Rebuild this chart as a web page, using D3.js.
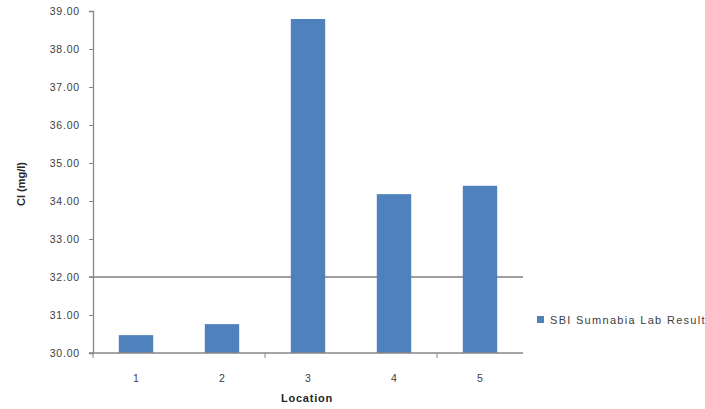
<!DOCTYPE html>
<html>
<head>
<meta charset="utf-8">
<script src="https://cdn.jsdelivr.net/npm/d3@7"></script>
<style>
  html, body { margin: 0; padding: 0; background: #fff; }
  svg { display: block; }
  text { font-family: "Liberation Sans", Arial, sans-serif; }
</style>
</head>
<body>
<svg id="chart" width="705" height="409"></svg>
<script>
// Chloride readings per sampling location
const locations = ["1", "2", "3", "4", "5"];
const chlorideValues = [30.47, 30.76, 38.79, 34.18, 34.40];
const yTicks = [30, 31, 32, 33, 34, 35, 36, 37, 38, 39];
const limitValue = 32;
const seriesName = "SBI Sumnabia Lab Result";

const svg = d3.select("#chart");
const plot = { left: 93, right: 523, top: 11, bottom: 353 };
const axisColor = "#868686";
const barColor = "#4f81bd";

const x = d3.scaleBand()
  .domain(locations)
  .range([plot.left, plot.right])
  .paddingInner(0.6)
  .paddingOuter(0.3);

const y = d3.scaleLinear()
  .domain([30, 39])
  .range([plot.bottom, plot.top]);

// Limit line at 32 mg/l, drawn beneath the bars
svg.append("line")
  .attr("x1", plot.left - 4).attr("x2", plot.right)
  .attr("y1", y(limitValue)).attr("y2", y(limitValue))
  .attr("stroke", "#808080").attr("stroke-width", 1.3);

// Bars
svg.append("g").selectAll("rect")
  .data(chlorideValues)
  .join("rect")
  .attr("x", (d, i) => x(locations[i]))
  .attr("width", x.bandwidth())
  .attr("y", d => y(d))
  .attr("height", d => y(30) - y(d))
  .attr("fill", barColor);

// Y axis
const yAxis = d3.axisLeft(y)
  .tickValues(yTicks)
  .tickFormat(d3.format(".2f"))
  .tickSize(4)
  .tickPadding(9);
const gy = svg.append("g")
  .attr("transform", `translate(${plot.left},0)`)
  .call(yAxis);
gy.select(".domain").attr("stroke", axisColor).attr("stroke-width", 1.3);
gy.selectAll(".tick line").attr("stroke", axisColor);
gy.selectAll(".tick text")
  .attr("fill", "#404040")
  .style("font-size", "10.5px")
  .style("letter-spacing", "0.8px");

// X axis: baseline, tick marks every second category boundary, labels
const gx = svg.append("g");
gx.append("line")
  .attr("x1", plot.left - 4).attr("x2", plot.right)
  .attr("y1", plot.bottom).attr("y2", plot.bottom)
  .attr("stroke", axisColor).attr("stroke-width", 1.3);
const boundaries = [0, 2, 4].map(k => plot.left + k * (plot.right - plot.left) / locations.length);
gx.selectAll("line.tickmark")
  .data(boundaries)
  .join("line")
  .attr("class", "tickmark")
  .attr("x1", d => d).attr("x2", d => d)
  .attr("y1", plot.bottom).attr("y2", plot.bottom + 5)
  .attr("stroke", axisColor);
gx.selectAll("text")
  .data(locations)
  .join("text")
  .attr("x", d => x(d) + x.bandwidth() / 2)
  .attr("y", 382)
  .attr("text-anchor", "middle")
  .attr("fill", "#404040")
  .style("font-size", "10.5px")
  .text(d => d);

// Axis titles
svg.append("text")
  .attr("x", 307).attr("y", 402)
  .attr("text-anchor", "middle")
  .attr("fill", "#262626")
  .style("font-size", "11px")
  .style("font-weight", "bold")
  .style("letter-spacing", "0.8px")
  .text("Location");

svg.append("text")
  .attr("transform", "translate(25,184) rotate(-90)")
  .attr("text-anchor", "middle")
  .attr("fill", "#262626")
  .style("font-size", "11px")
  .style("font-weight", "bold")
  .text("Cl (mg/l)");

// Legend
const legend = svg.append("g").attr("transform", "translate(537,316)");
legend.append("rect")
  .attr("width", 7).attr("height", 7)
  .attr("fill", barColor);
legend.append("text")
  .attr("x", 13).attr("y", 8)
  .attr("fill", "#404040")
  .style("font-size", "11px")
  .style("letter-spacing", "1.3px")
  .text(seriesName);
</script>
</body>
</html>
